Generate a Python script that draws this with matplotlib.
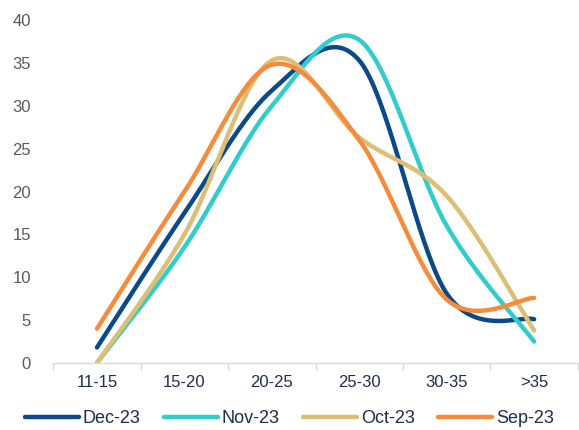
import numpy as np
import matplotlib.pyplot as plt

plt.rcParams['font.family'] = ['Liberation Sans', 'DejaVu Sans']

categories = ['11-15', '15-20', '20-25', '25-30', '30-35', '>35']
dec_23 = [1.8, 17.5, 31.8, 35.3, 8.1, 5.1]
nov_23 = [0.0, 13.5, 30.0, 37.7, 16.0, 2.5]
oct_23 = [0.0, 15.0, 35.3, 26.3, 19.5, 3.8]
sep_23 = [4.0, 20.0, 34.8, 26.0, 7.4, 7.6]

series = [('Dec-23', dec_23, '#0b4a86'),
          ('Nov-23', nov_23, '#33cccc'),
          ('Oct-23', oct_23, '#dcbf74'),
          ('Sep-23', sep_23, '#f58b3b')]


def smooth(x, y, n=40):
    # excel-like smoothed line: cubic bezier between points
    x = np.asarray(x, float)
    y = np.asarray(y, float)
    px = np.concatenate([[x[0]], x, [x[-1]]])
    py = np.concatenate([[y[0]], y, [y[-1]]])
    xs, ys = [], []
    t = np.linspace(0, 1, n)
    for i in range(len(x) - 1):
        p0 = np.array([px[i + 1], py[i + 1]])
        p3 = np.array([px[i + 2], py[i + 2]])
        p1 = p0 + (np.array([px[i + 2], py[i + 2]]) - np.array([px[i], py[i]])) / 6
        p2 = p3 - (np.array([px[i + 3], py[i + 3]]) - np.array([px[i + 1], py[i + 1]])) / 6
        b = ((1 - t) ** 3)[:, None] * p0 + (3 * (1 - t) ** 2 * t)[:, None] * p1 \
            + (3 * (1 - t) * t ** 2)[:, None] * p2 + (t ** 3)[:, None] * p3
        xs.extend(b[:, 0])
        ys.extend(b[:, 1])
    return xs, ys


fig = plt.figure(figsize=(5.79, 4.30), dpi=100)
ax = fig.add_axes([0.092, 0.156, 0.906, 0.797])

x = np.arange(len(categories))
for name, vals, col in series:
    sx, sy = smooth(x, vals)
    ax.plot(sx, sy, color=col, lw=3.2, solid_capstyle='round', label=name)

ax.set_xlim(-0.5, len(categories) - 0.5)
ax.set_ylim(0, 40)
ax.set_yticks(range(0, 41, 5))
ax.set_xticks(x)
ax.set_xticklabels(categories)
ax.set_xticks(np.arange(-0.5, len(categories), 1), minor=True)

for s in ['top', 'right', 'left']:
    ax.spines[s].set_visible(False)
ax.spines['bottom'].set_color('#d9d9d9')
ax.spines['bottom'].set_linewidth(1)

ax.tick_params(axis='x', which='major', length=0, pad=9, labelsize=12, labelcolor='#1f2d4a')
ax.tick_params(axis='x', which='minor', length=5, color='#d9d9d9', width=1)
ax.tick_params(axis='y', length=0, pad=16, labelsize=12, labelcolor='#595959')

ax.legend(loc='upper center', bbox_to_anchor=(0.45, -0.09), ncol=4, frameon=False,
          fontsize=13, handlelength=3.0, handletextpad=0.2, columnspacing=1.3,
          labelcolor='#1f2d4a')

fig.savefig('out.png', dpi=100)
